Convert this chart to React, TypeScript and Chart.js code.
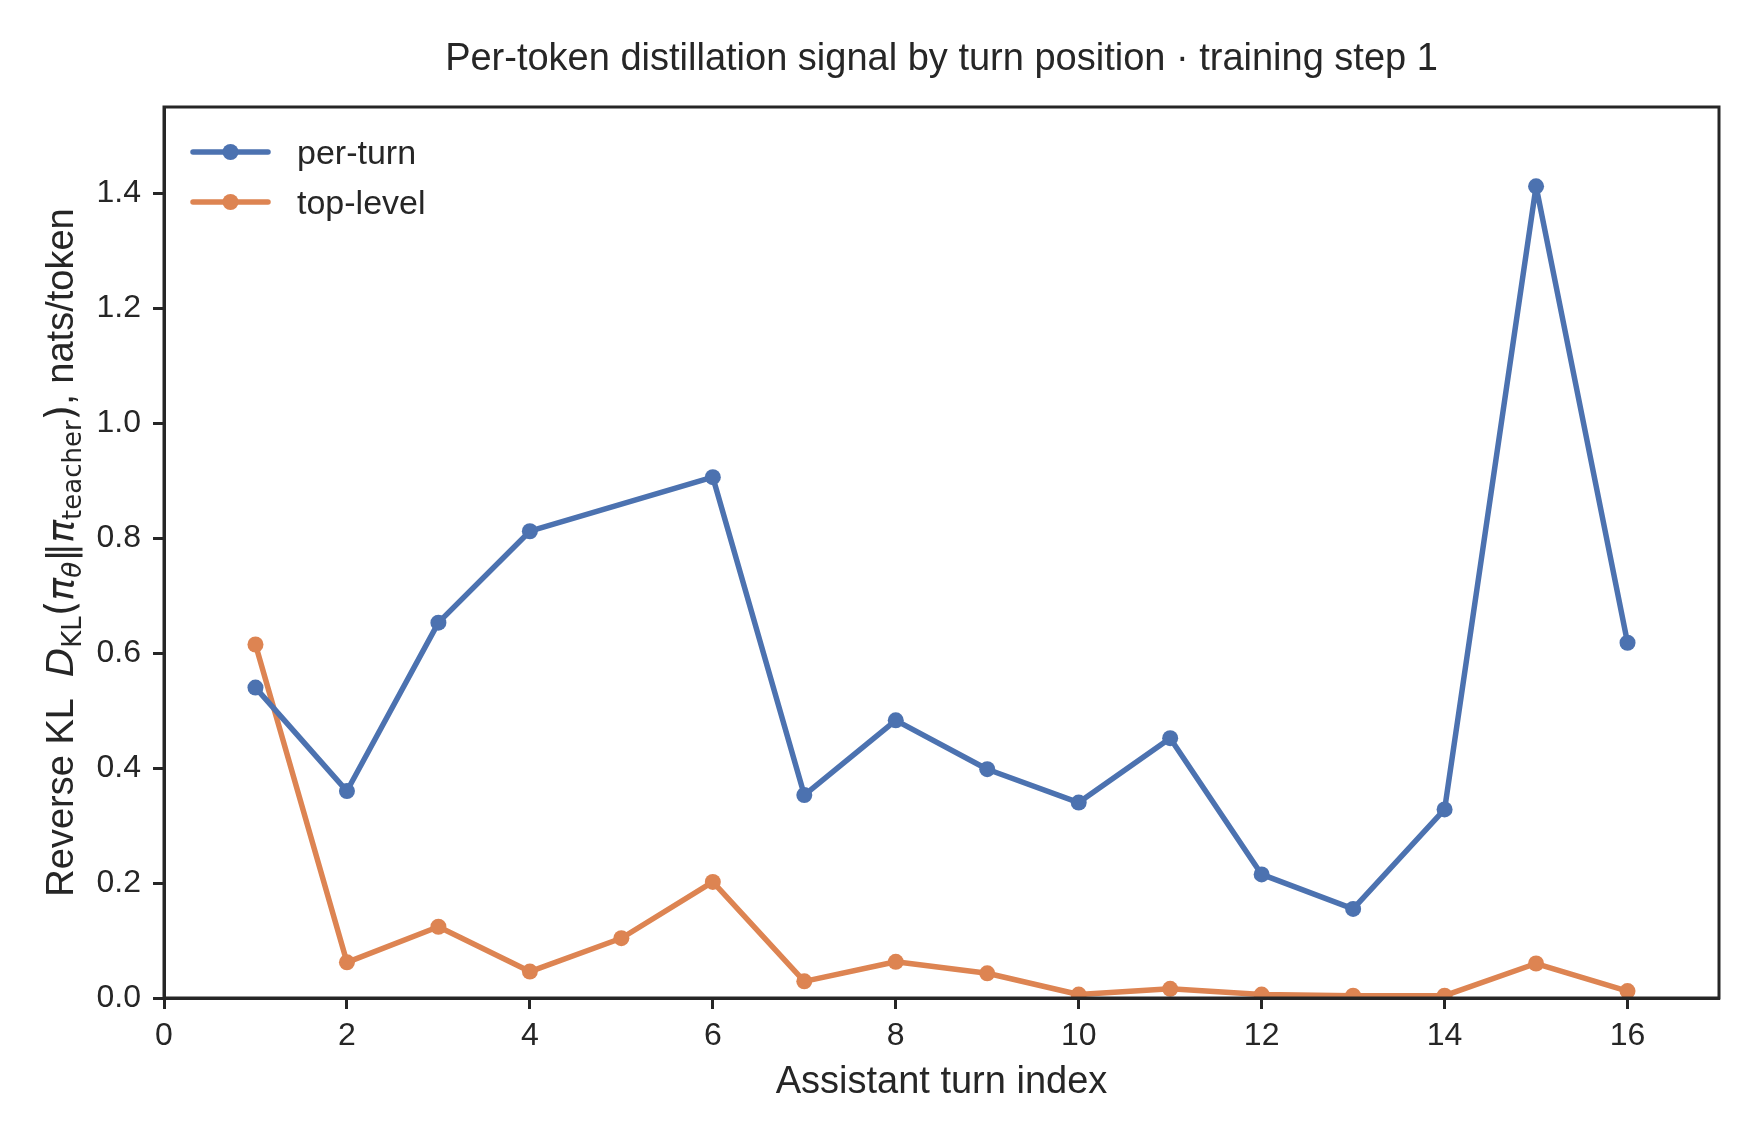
import React, { useEffect, useRef } from 'react';
import { Chart, registerables } from 'chart.js';

Chart.register(...registerables);

// turn indices and reverse KL (nats/token); per-turn has no value at turn 5
const perTurnTurns = [1, 2, 3, 4, 6, 7, 8, 9, 10, 11, 12, 13, 14, 15, 16];
const perTurnKL = [0.54, 0.36, 0.653, 0.812, 0.906, 0.353, 0.483, 0.398, 0.34, 0.452, 0.215, 0.155, 0.328, 1.412, 0.618];

const topLevelTurns = [1, 2, 3, 4, 5, 6, 7, 8, 9, 10, 11, 12, 13, 14, 15, 16];
const topLevelKL = [0.615, 0.062, 0.124, 0.046, 0.104, 0.202, 0.029, 0.063, 0.043, 0.006, 0.016, 0.006, 0.004, 0.004, 0.06, 0.012];

const xTicks = [0, 2, 4, 6, 8, 10, 12, 14, 16];
const yTicks = [0, 0.2, 0.4, 0.6, 0.8, 1.0, 1.2, 1.4];

const seriesNames = ['per-turn', 'top-level'];
const seriesColors = ['#4C72B0', '#DD8452'];

const TITLE = 'Per-token distillation signal by turn position · training step 1';
const X_LABEL = 'Assistant turn index';

const SANS = '"Liberation Sans", Arial, sans-serif';
const MATH = '"DejaVu Sans", sans-serif';
const INK = '#262626';

// y label pieces: [text, font, baseline shift]
const yLabelParts: Array<[string, string, number]> = [
  ['Reverse KL  ', `38px ${SANS}`, 0],
  ['D', `italic 38px ${MATH}`, 0],
  ['KL', `26px ${MATH}`, 8],
  ['(', `40px ${MATH}`, 1],
  ['π', `italic 38px ${MATH}`, 0],
  ['θ', `italic 26px ${MATH}`, 8],
  ['‖', `38px ${MATH}`, 0],
  ['π', `italic 38px ${MATH}`, 0],
  ['teacher', `26px ${MATH}`, 8],
  [')', `40px ${MATH}`, 1],
  [', nats/token', `38px ${SANS}`, 0],
];

const decorPlugin = {
  id: 'decor',
  afterDraw(chart: any) {
    const { ctx, chartArea } = chart;
    const { left, right, top, bottom } = chartArea;
    ctx.save();

    // frame (top/right spines)
    ctx.strokeStyle = INK;
    ctx.lineWidth = 3;
    ctx.strokeRect(left, top, right - left, bottom - top);

    // title
    ctx.fillStyle = INK;
    ctx.textAlign = 'center';
    ctx.textBaseline = 'alphabetic';
    ctx.font = `38px ${SANS}`;
    ctx.fillText(TITLE, (left + right) / 2, top - 37);

    // x label
    ctx.fillText(X_LABEL, (left + right) / 2, bottom + 95);

    // y label (rotated, with subscripts)
    ctx.textAlign = 'left';
    let total = 0;
    for (const [t, f] of yLabelParts) {
      ctx.font = f;
      total += ctx.measureText(t).width;
    }
    ctx.translate(left - 91, (top + bottom) / 2);
    ctx.rotate(-Math.PI / 2);
    let cx = -total / 2;
    for (const [t, f, dy] of yLabelParts) {
      ctx.font = f;
      ctx.fillText(t, cx, dy);
      cx += ctx.measureText(t).width;
    }
    ctx.setTransform(1, 0, 0, 1, 0, 0);
    ctx.restore();

    // legend inside the axes, top-left
    ctx.save();
    seriesNames.forEach((name, i) => {
      const y = top + 45 + i * 50;
      const x0 = left + 29;
      ctx.strokeStyle = seriesColors[i];
      ctx.lineWidth = 5.5;
      ctx.lineCap = 'round';
      ctx.beginPath();
      ctx.moveTo(x0, y);
      ctx.lineTo(x0 + 75, y);
      ctx.stroke();
      ctx.fillStyle = seriesColors[i];
      ctx.beginPath();
      ctx.arc(x0 + 37.5, y, 8, 0, Math.PI * 2);
      ctx.fill();
      ctx.fillStyle = INK;
      ctx.font = `34px ${SANS}`;
      ctx.textAlign = 'left';
      ctx.textBaseline = 'alphabetic';
      ctx.fillText(name, x0 + 104, y + 12);
    });
    ctx.restore();
  },
};

const App = () => {
  const canvasRef = useRef<HTMLCanvasElement>(null);
  const chartRef = useRef<Chart | null>(null);

  useEffect(() => {
    if (!canvasRef.current) return;
    if (chartRef.current) chartRef.current.destroy();

    const series = [
      perTurnTurns.map((t, i) => ({ x: t, y: perTurnKL[i] })),
      topLevelTurns.map((t, i) => ({ x: t, y: topLevelKL[i] })),
    ];

    chartRef.current = new Chart(canvasRef.current, {
      type: 'line',
      data: {
        datasets: seriesNames.map((name, i) => ({
          label: name,
          data: series[i],
          borderColor: seriesColors[i],
          backgroundColor: seriesColors[i],
          borderWidth: 5.5,
          borderJoinStyle: 'round',
          borderCapStyle: 'round',
          pointRadius: 8,
          pointBorderWidth: 0,
          pointBackgroundColor: seriesColors[i],
          tension: 0,
          fill: false,
        })),
      },
      options: {
        animation: false,
        responsive: true,
        maintainAspectRatio: false,
        events: [],
        layout: { padding: { left: 0, top: 107, right: 41, bottom: 0 } },
        plugins: {
          legend: { display: false },
          title: { display: false },
          tooltip: { enabled: false },
        },
        scales: {
          x: {
            type: 'linear',
            min: 0,
            max: 17,
            afterBuildTicks: (scale: any) => {
              scale.ticks = xTicks.map((v) => ({ value: v }));
            },
            afterFit: (scale: any) => {
              scale.height = 146;
            },
            ticks: {
              color: INK,
              font: { size: 32, family: SANS },
              padding: 8,
              maxRotation: 0,
              callback: (v: any) => String(v),
            },
            grid: {
              display: true,
              drawOnChartArea: false,
              drawTicks: true,
              tickLength: 11,
              tickWidth: 3,
              tickColor: INK,
            },
            border: { display: true, color: INK, width: 3 },
          },
          y: {
            type: 'linear',
            min: 0,
            max: 1.55,
            afterBuildTicks: (scale: any) => {
              scale.ticks = yTicks.map((v) => ({ value: v }));
            },
            afterFit: (scale: any) => {
              scale.width = 164;
            },
            ticks: {
              color: INK,
              font: { size: 32, family: SANS },
              padding: 12,
              callback: (v: any) => Number(v).toFixed(1),
            },
            grid: {
              display: true,
              drawOnChartArea: false,
              drawTicks: true,
              tickLength: 11,
              tickWidth: 3,
              tickColor: INK,
            },
            border: { display: true, color: INK, width: 3 },
          },
        },
      },
      plugins: [decorPlugin],
    });

    return () => {
      if (chartRef.current) {
        chartRef.current.destroy();
        chartRef.current = null;
      }
    };
  }, []);

  return (
    <div style={{ position: 'absolute', left: 0, top: 0, width: 1760, height: 1144, background: '#fff' }}>
      <canvas ref={canvasRef}></canvas>
    </div>
  );
};

export default App;
